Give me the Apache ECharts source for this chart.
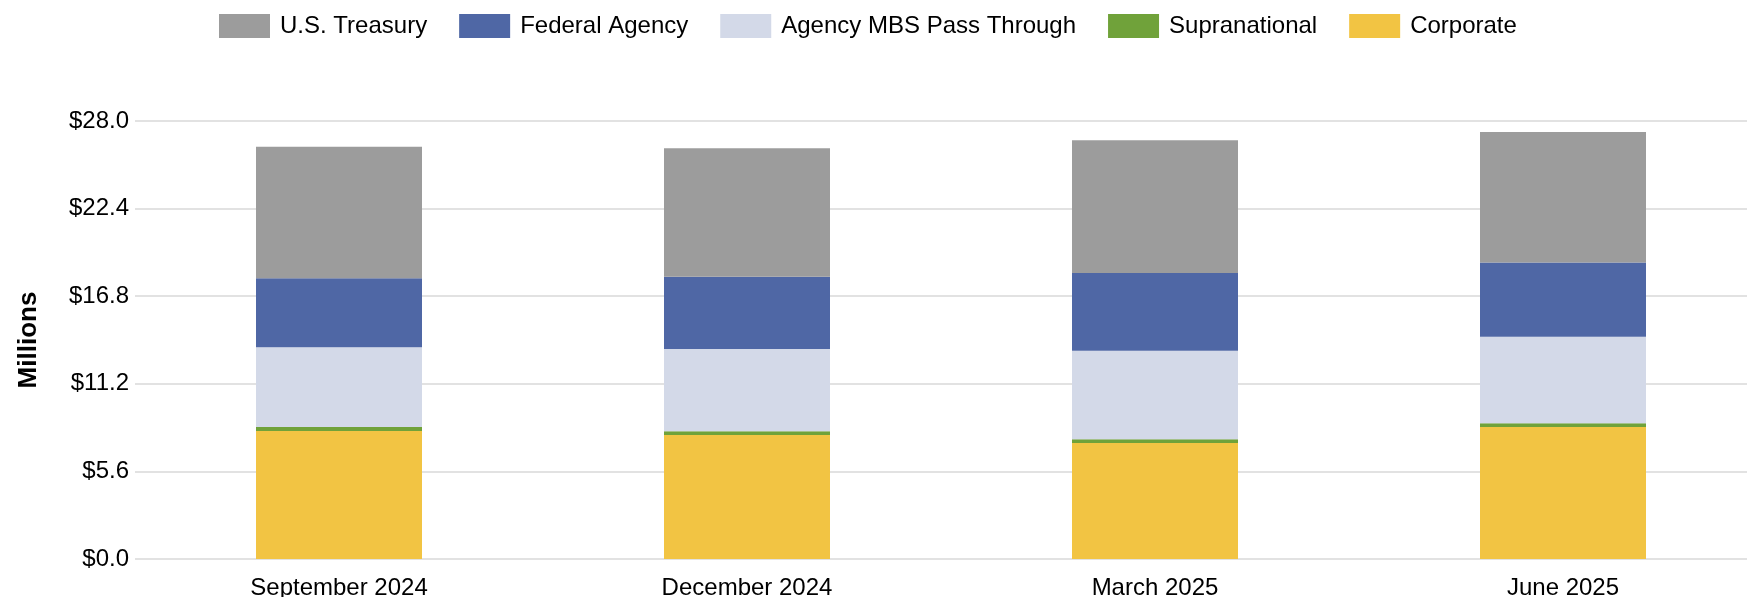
<!DOCTYPE html>
<html>
<head>
<meta charset="utf-8">
<script src="https://cdn.jsdelivr.net/npm/echarts@6/dist/echarts.min.js"></script>
<style>
  html, body { margin: 0; padding: 0; background: #fff; }
  #chart { width: 1747px; height: 597px; }
</style>
</head>
<body>
<div id="chart"></div>
<script>
// quarters on the x axis
const quarters = ['September 2024', 'December 2024', 'March 2025', 'June 2025'];

// holdings by sector, $ millions
const treasury      = [8.41, 8.21, 8.48, 8.34];
const federalAgency = [4.41, 4.62, 4.97, 4.75];
const agencyMbs     = [5.10, 5.26, 5.66, 5.52];
const supranational = [0.26, 0.24, 0.24, 0.24];
const corporate     = [8.18, 7.93, 7.42, 8.44];

// y axis ticks
const yMin = 0, yMax = 28, yStep = 5.6;

const legendOrder = ['U.S. Treasury', 'Federal Agency', 'Agency MBS Pass Through', 'Supranational', 'Corporate'];

const font = '"Liberation Sans", Arial, sans-serif';

const chart = echarts.init(document.getElementById('chart'));

const bar = (name, data, color) => ({
    name: name,
    type: 'bar',
    stack: 'total',
    data: data,
    barWidth: 166,
    itemStyle: { color: color },
    emphasis: { disabled: true }
});

chart.setOption({
    animation: false,
    textStyle: { fontFamily: font },
    legend: {
        data: legendOrder,
        top: 9,
        left: 214,
        itemWidth: 51,
        itemHeight: 24,
        itemGap: 32,
        icon: 'rect',
        textStyle: { fontSize: 24, color: '#000', fontFamily: font, padding: [0, 0, 0, 5] }
    },
    // the plot runs past the right edge of the picture
    grid: {
        left: 135, width: 1632, top: 121, bottom: 38,
        containLabel: false, outerBoundsMode: 'none'
    },
    xAxis: {
        type: 'category',
        data: quarters,
        axisLine: { show: false },
        axisTick: { show: false },
        axisLabel: { fontSize: 24, color: '#000', margin: 17, fontFamily: font }
    },
    yAxis: {
        type: 'value',
        min: yMin,
        max: yMax,
        interval: yStep,
        name: 'Millions',
        nameLocation: 'middle',
        nameGap: 93,
        nameTextStyle: { fontSize: 26, fontWeight: 'bold', color: '#000', fontFamily: font },
        axisLine: { show: false },
        axisTick: { show: false },
        axisLabel: {
            fontSize: 24, color: '#000', margin: 6, fontFamily: font,
            formatter: v => '$' + v.toFixed(1)
        },
        splitLine: { lineStyle: { color: '#d9d9d9', width: 1.5 } }
    },
    series: [
        bar('Corporate', corporate, '#f2c443'),
        bar('Supranational', supranational, '#70a23a'),
        bar('Agency MBS Pass Through', agencyMbs, '#d3d9e8'),
        bar('Federal Agency', federalAgency, '#4f67a5'),
        bar('U.S. Treasury', treasury, '#9c9c9c')
    ]
});

window.addEventListener('resize', () => chart.resize());
</script>
</body>
</html>
